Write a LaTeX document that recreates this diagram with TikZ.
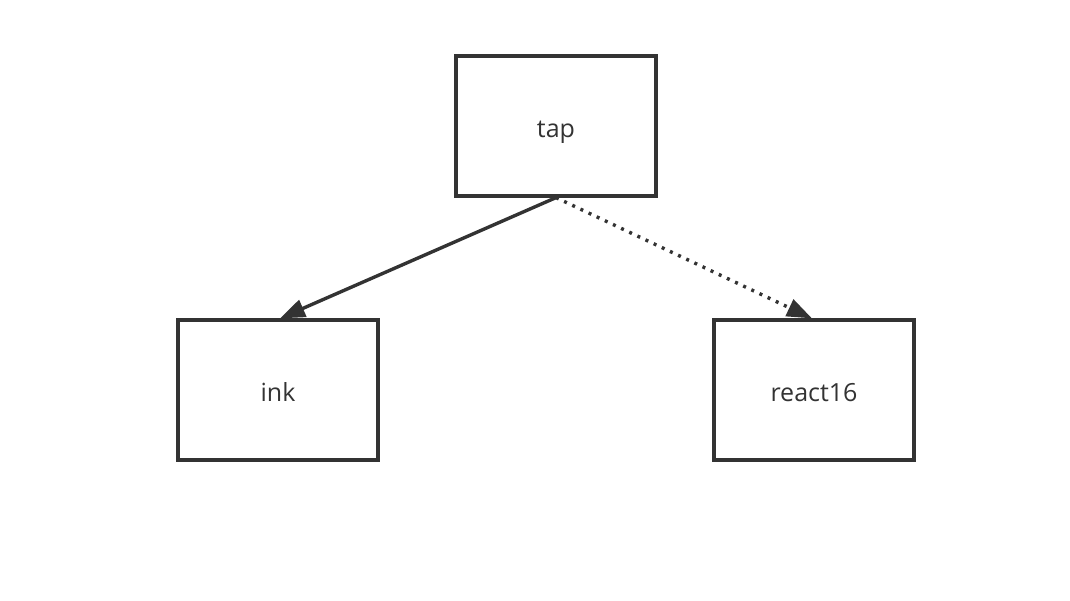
\documentclass[tikz,border=0pt]{standalone}
\usepackage{fontspec}
\setmainfont{Open Sans}
\usetikzlibrary{arrows.meta}
\definecolor{ink}{HTML}{333333}
\begin{document}
\begin{tikzpicture}[x=1pt,y=-1pt,
  box/.style={draw=ink,line width=3.2pt,minimum width=200pt,minimum height=140pt,inner sep=0pt,text=ink,text height=22pt,text depth=0pt,font=\fontsize{25}{30}\selectfont},
  conn/.style={draw=ink,line width=3.4pt,-{Triangle[length=25pt,width=18pt]}}]
\useasboundingbox (0,0) rectangle (1070,600);
\node[box] (tap) at (556,126) {tap};
\node[box] (ink) at (278,390) {ink};
\node[box] (react) at (814,390) {react16};
\coordinate (src) at (tap.south);
\draw[conn] (src) -- ([xshift=2pt]ink.north);
\draw[conn,dash pattern=on 3pt off 6pt] (src) -- ([xshift=-2pt]react.north);
\end{tikzpicture}
\end{document}
